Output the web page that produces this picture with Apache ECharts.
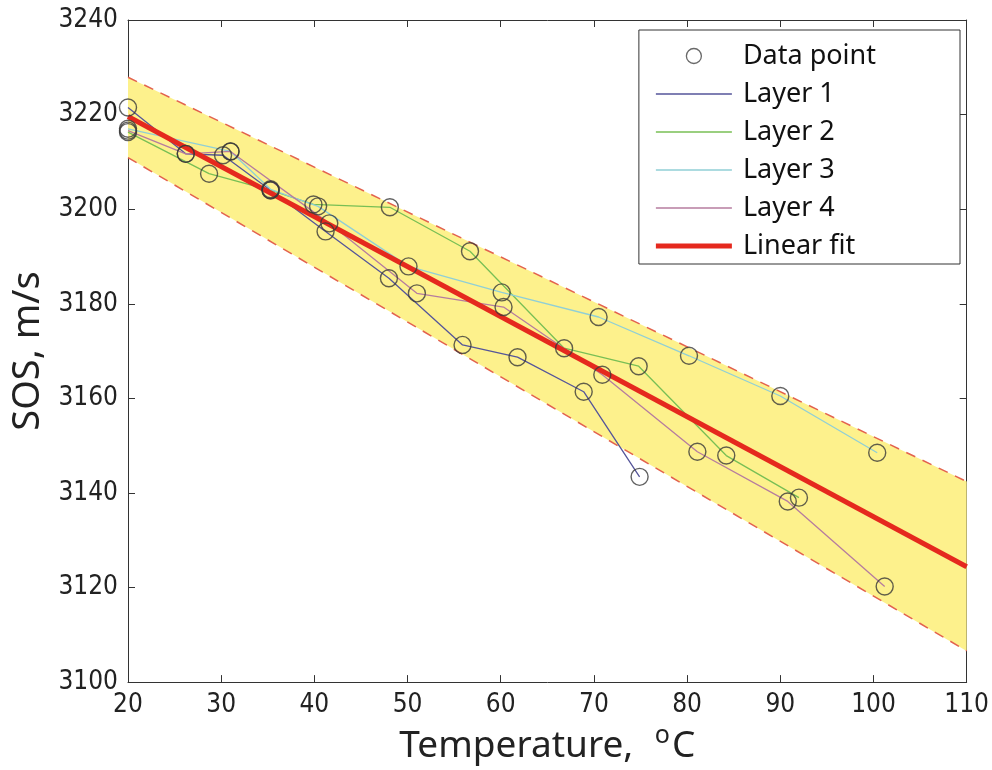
<!DOCTYPE html>
<html><head><meta charset="utf-8">
<script src="https://cdn.jsdelivr.net/npm/echarts@6/dist/echarts.min.js"></script>
<style>html,body{margin:0;padding:0;background:#fff}#c{width:992px;height:770px}</style>
</head><body><div id="c"></div>
<script>
// Tick labels
const xTickValues = [20, 30, 40, 50, 60, 70, 80, 90, 100, 110];
const yTickValues = [3100, 3120, 3140, 3160, 3180, 3200, 3220, 3240];

// Series values [temperature °C, SOS m/s]
const layer1 = [[20,3221.5],[26.2,3211.7],[30.2,3211.4],[35.3,3204],[41.2,3195.3],[48,3185.4],[55.9,3171.3],[61.8,3168.7],[68.9,3161.4],[74.9,3143.4]];
const layer2 = [[20,3216.3],[28.7,3207.5],[35.3,3204],[39.9,3201],[48.1,3200.4],[56.7,3191.1],[66.8,3170.6],[74.8,3166.8],[84.2,3147.9],[92,3139]];
const layer3 = [[20,3217],[31,3212.2],[35.3,3204.2],[40.4,3200.6],[50.1,3187.9],[60.1,3182.4],[70.5,3177.2],[80.2,3169],[90,3160.5],[100.4,3148.5]];
const layer4 = [[20,3216.6],[26.2,3211.7],[31,3212.2],[41.6,3197],[51,3182.2],[60.3,3179.3],[70.9,3165],[81.1,3148.7],[90.8,3138.2],[101.2,3120.2]];
const fitLine = [[20,3219.6],[110,3124.4]];
const bandUpper = [[20,3227.9],[110,3142.4]];
const bandLower = [[20,3210.9],[110,3106.6]];

const allPoints = layer1.concat(layer2, layer3, layer4);

const chart = echarts.init(document.getElementById('c'), null, {renderer: 'canvas'});
const tickFont = "'Liberation Sans Narrow','DejaVu Sans Condensed','Noto Sans',sans-serif";
const textFont = "'Noto Sans','Open Sans',sans-serif";
const axisCol = '#333';
const thinIcon = 'path://M0,0h76v1.4h-76z';
const thickIcon = 'path://M0,0h76v5h-76z';

const bandPoly = bandUpper.concat(bandLower.slice().reverse());

chart.setOption({
  animation: false,
  backgroundColor: '#fff',
  grid: {left: 128, right: 22, top: 20, bottom: 86},
  xAxis: [{
    type: 'value', min: 20, max: 110, interval: 10,
    name: 'Temperature, {sup|o}C', nameLocation: 'middle', nameGap: 33,
    nameTextStyle: {fontFamily: textFont, fontSize: 37, color: '#222',
      rich: {sup: {fontFamily: textFont, fontSize: 25, color: '#222', verticalAlign: 'top', padding: [0, 2, 22, 12]}}},
    axisLine: {show: true, lineStyle: {color: axisCol, width: 1}},
    axisTick: {show: true, inside: true, length: 7, lineStyle: {color: axisCol}},
    axisLabel: {fontFamily: tickFont, fontSize: 26, color: '#222', margin: 10,
      formatter: v => xTickValues.includes(v) ? String(v) : ''},
    splitLine: {show: false}
  }, {
    type: 'value', min: 20, max: 110, interval: 10, position: 'top',
    axisLine: {show: true, onZero: false, lineStyle: {color: axisCol, width: 1}},
    axisTick: {show: true, inside: true, length: 7, lineStyle: {color: axisCol}},
    axisLabel: {show: false}, splitLine: {show: false}
  }],
  yAxis: [{
    type: 'value', min: 3100, max: 3240, interval: 20,
    name: 'SOS, m/s', nameLocation: 'middle', nameGap: 76, nameRotate: 90,
    nameTextStyle: {fontFamily: textFont, fontSize: 38, color: '#222'},
    axisLine: {show: true, lineStyle: {color: axisCol, width: 1}},
    axisTick: {show: true, inside: true, length: 7, lineStyle: {color: axisCol}},
    axisLabel: {fontFamily: tickFont, fontSize: 26, color: '#222', margin: 10,
      formatter: v => yTickValues.includes(v) ? String(v) : ''},
    splitLine: {show: false}
  }, {
    type: 'value', min: 3100, max: 3240, interval: 20, position: 'right',
    axisLine: {show: true, onZero: false, lineStyle: {color: axisCol, width: 1}},
    axisTick: {show: true, inside: true, length: 7, lineStyle: {color: axisCol}},
    axisLabel: {show: false}, splitLine: {show: false}
  }],
  legend: {
    orient: 'vertical', right: 32, top: 30,
    backgroundColor: '#fff', borderColor: '#333', borderWidth: 1,
    padding: [12, 84, 4, 17],
    itemWidth: 76, itemHeight: 15, itemGap: 10,
    textStyle: {fontFamily: textFont, fontSize: 27, color: '#111', lineHeight: 28, padding: [0, 0, 0, 6]},
    data: [
      {name: 'Data point', icon: 'circle', itemStyle: {color: 'rgba(0,0,0,0)', borderColor: '#444', borderWidth: 1.3}},
      {name: 'Layer 1', icon: thinIcon},
      {name: 'Layer 2', icon: thinIcon},
      {name: 'Layer 3', icon: thinIcon},
      {name: 'Layer 4', icon: thinIcon},
      {name: 'Linear fit', icon: thickIcon}
    ]
  },
  series: [
    {
      name: 'band', type: 'custom', z: 1, silent: true,
      data: [0],
      renderItem: (params, api) => ({
        type: 'polygon',
        shape: {points: bandPoly.map(p => api.coord(p))},
        style: {fill: '#fdf18c'}
      })
    },
    {name: 'bandUpper', type: 'line', data: bandUpper, symbol: 'none', z: 2,
      lineStyle: {color: '#e3624e', width: 1.5, type: [10, 8]}},
    {name: 'bandLower', type: 'line', data: bandLower, symbol: 'none', z: 2,
      lineStyle: {color: '#e3624e', width: 1.5, type: [10, 8]}},
    {name: 'Layer 1', type: 'line', data: layer1, symbol: 'none', z: 3, lineStyle: {color: '#55559a', width: 1.3}, itemStyle: {color: '#55559a'}},
    {name: 'Layer 2', type: 'line', data: layer2, symbol: 'none', z: 3, lineStyle: {color: '#78bf55', width: 1.3}, itemStyle: {color: '#78bf55'}},
    {name: 'Layer 3', type: 'line', data: layer3, symbol: 'none', z: 3, lineStyle: {color: '#90cfd6', width: 1.3}, itemStyle: {color: '#90cfd6'}},
    {name: 'Layer 4', type: 'line', data: layer4, symbol: 'none', z: 3, lineStyle: {color: '#b67c9f', width: 1.3}, itemStyle: {color: '#b67c9f'}},
    {name: 'Linear fit', type: 'line', data: fitLine, symbol: 'none', z: 4, lineStyle: {color: '#e5291e', width: 5}, itemStyle: {color: '#e5291e'}},
    {name: 'Data point', type: 'scatter', data: allPoints, symbol: 'circle', symbolSize: 17, z: 5,
      itemStyle: {color: 'rgba(0,0,0,0)', borderColor: '#3a3a3a', borderWidth: 1.4}}
  ]
});
</script>
</body></html>
